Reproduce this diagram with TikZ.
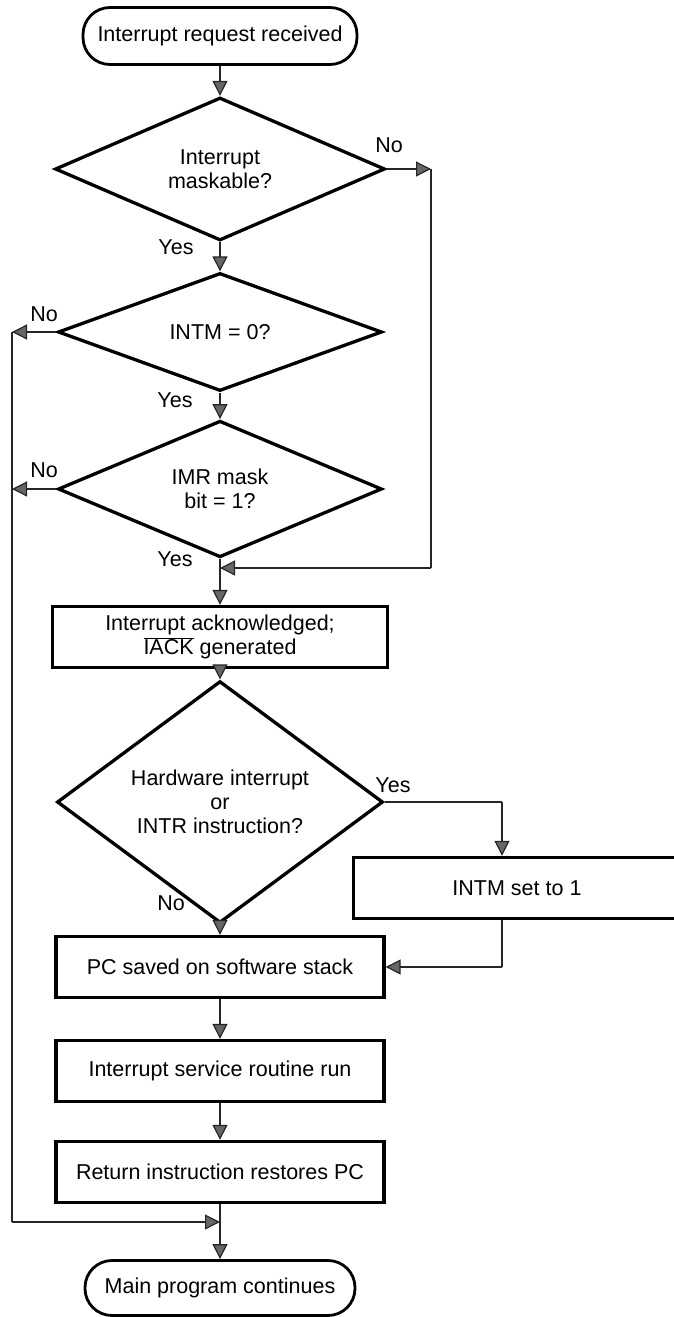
\documentclass[tikz,border=0pt]{standalone}
\usepackage{fontspec}
\setmainfont{Liberation Sans}
\usetikzlibrary{shapes.geometric,arrows.meta}

\begin{document}
\begin{tikzpicture}[x=1pt, y=-1pt, >={Triangle[length=15pt,width=15pt,fill=black!60]},
  font=\fontsize{21.5}{24}\selectfont,
  term/.style={draw, line width=2.8pt, rounded corners=27pt, minimum width=274pt, minimum height=57pt, inner sep=0pt},
  proc/.style={draw, line width=3.3pt, minimum width=328pt, minimum height=61pt, inner sep=0pt, align=center},
  test/.style={draw, diamond, line width=3.3pt, inner sep=0pt, align=center},
  link/.style={line width=1.2pt, draw=black!85}]
\useasboundingbox (0,0) rectangle (674,1317);

% main column
\node[term] (start) at (220,36) {Interrupt request received};
\node[test, minimum width=330pt, minimum height=133pt] (mask) at (220,169) {Interrupt\\maskable?};
\node[test, minimum width=324pt, minimum height=118pt] (intm) at (220,332) {INTM = 0?};
\node[test, minimum width=324pt, minimum height=118pt] (imr) at (220,489) {IMR mask\\bit = 1?};
\node[proc, minimum width=335pt] (ack) at (220,637) {Interrupt acknowledged;\\$\overline{\mbox{IACK}}$ generated};
\node[test, minimum width=326pt, minimum height=187pt] (hw) at (220,802) {Hardware interrupt\\or\\INTR instruction?};
\node[proc, minimum width=327pt] (set) at (517,888) {INTM set to 1};
\node[proc] (save) at (220,967) {PC saved on software stack};
\node[proc] (isr) at (220,1071) {Interrupt service routine run};
\node[proc] (ret) at (220,1172) {Return instruction restores PC};
\node[term, minimum width=270pt, minimum height=55pt] (cont) at (220,1288) {Main program continues};

\draw[link,->] (start.south) -- (mask.north);
\draw[link,->] (mask.south) -- (intm.north);
\draw[link,->] (intm.south) -- (imr.north);
\draw[link,->] (imr.south) -- (ack.north);
\draw[link,->] (ack.south) -- (hw.north);
\draw[link,->] (hw.south) -- (save.north);
\draw[link,->] (save.south) -- (isr.north);
\draw[link,->] (isr.south) -- (ret.north);
\draw[link,->] (ret.south) -- (cont.north);

% not maskable
\coordinate (noA) at (431,169);
\coordinate (joinA) at (220,568);
\draw[link,->] (mask.east) -- (noA);
\draw[link] (noA) -- (noA |- joinA);
\draw[link,->] (noA |- joinA) -- (joinA);

% rejected
\coordinate (noB) at (12,332);
\coordinate (noC) at (12,489);
\coordinate (joinB) at (220,1222);
\draw[link,->] (intm.west) -- (noB);
\draw[link,->] (imr.west) -- (noC);
\draw[link] (noB) -- (noB |- joinB);
\draw[link,->] (noB |- joinB) -- (joinB);

% hardware / INTR
\coordinate (yesD) at (502,802);
\coordinate (back) at (502,967);
\draw[link] (hw.east) -- (yesD);
\draw[link,->] (yesD) -- (yesD |- set.north);
\draw[link] (set.south -| back) -- (back);
\draw[link,->] (back) -- (save.east);

% labels
\node (lblA) at (389,145) {No};
\node (lblB) at (176,247) {Yes};
\node (lblC) at (44,314) {No};
\node (lblD) at (175,400) {Yes};
\node (lblE) at (44,470) {No};
\node (lblF) at (175,559) {Yes};
\node (lblG) at (393,785) {Yes};
\node (lblH) at (171,903) {No};
\end{tikzpicture}
\end{document}
